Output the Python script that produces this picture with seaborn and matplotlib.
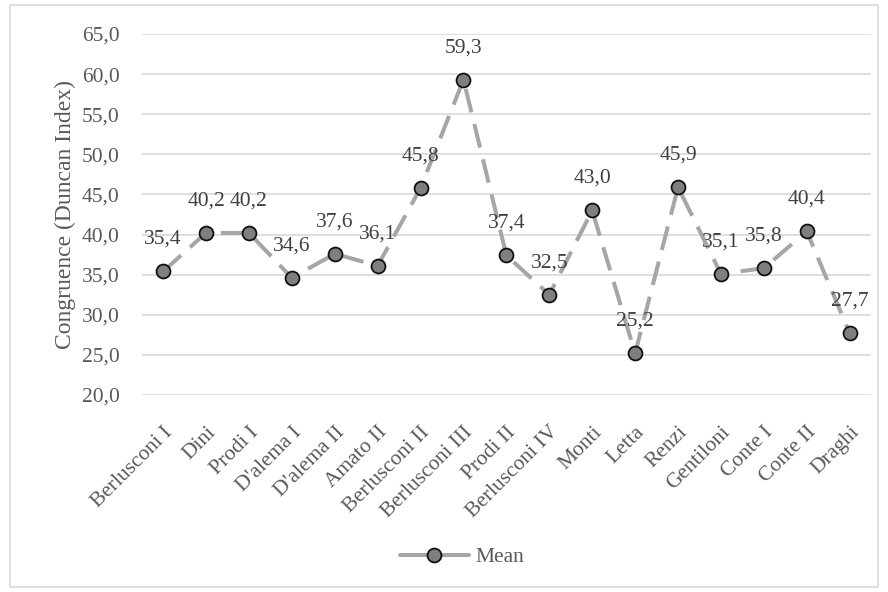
import matplotlib
matplotlib.use("Agg")
import matplotlib.pyplot as plt
from matplotlib.patches import Rectangle
from matplotlib.ticker import FuncFormatter, MultipleLocator
import pandas as pd
import seaborn as sns

governments = ["Berlusconi I", "Dini", "Prodi I", "D'alema I", "D'alema II",
               "Amato II", "Berlusconi II", "Berlusconi III", "Prodi II",
               "Berlusconi IV", "Monti", "Letta", "Renzi", "Gentiloni",
               "Conte I", "Conte II", "Draghi"]
mean_values = [35.4, 40.2, 40.2, 34.6, 37.6, 36.1, 45.8, 59.3, 37.4,
               32.5, 43.0, 25.2, 45.9, 35.1, 35.8, 40.4, 27.7]
y_ticks = [20, 25, 30, 35, 40, 45, 50, 55, 60, 65]

sns.set_theme(style="white")
plt.rcParams["font.family"] = ["Liberation Serif", "DejaVu Serif"]

TEXT = "#595959"
LABEL = "#404040"
LINE = "#a6a6a6"
GRID = "#d9d9d9"
FS = 15.5

df = pd.DataFrame({"government": governments, "mean": mean_values})

fig = plt.figure(figsize=(8.88, 5.92), dpi=100)
ax = fig.add_axes([0.1595, 0.3328, 0.8215, 0.6098])

sns.lineplot(data=df, x="government", y="mean", sort=False, ax=ax,
             color=LINE, linewidth=2.9, marker="o", markersize=10,
             markerfacecolor="#7f7f7f", markeredgecolor="#111111",
             markeredgewidth=1.3, label="Mean")
ax.lines[0].set_dashes((6, 3))

ax.set_xlim(-0.5, len(governments) - 0.5)
ax.set_ylim(min(y_ticks), max(y_ticks))
ax.yaxis.set_major_locator(MultipleLocator(5))
ax.yaxis.set_major_formatter(FuncFormatter(lambda v, _: f"{v:.1f}".replace(".", ",")))
ax.grid(axis="y", color=GRID, linewidth=1.2)
ax.set_axisbelow(True)
for s in ax.spines.values():
    s.set_visible(False)

ax.tick_params(axis="y", labelsize=FS, colors=TEXT, length=0, pad=16)
ax.tick_params(axis="x", labelsize=FS, colors=TEXT, length=0, pad=20)
plt.setp(ax.get_xticklabels(), rotation=45, ha="right", rotation_mode="anchor")

ax.set_xlabel("")
ax.set_ylabel("Congruence (Duncan Index)", fontsize=17, color=TEXT, labelpad=4)

for i, v in enumerate(mean_values):
    ax.annotate(f"{v:.1f}".replace(".", ","), (i, v), xytext=(0, 23),
                textcoords="offset points", ha="center", va="center",
                fontsize=FS, color=LABEL)

leg = ax.legend(loc="center", bbox_to_anchor=(0.52, 0.059),
                bbox_transform=fig.transFigure, frameon=False, fontsize=FS,
                handlelength=3.2, handletextpad=0.3)
for t in leg.get_texts():
    t.set_color(TEXT)
for h in leg.get_lines():
    h.set_linestyle("-")

fig.patches.append(Rectangle((10 / 888, 5 / 592), 868 / 888, 582 / 592,
                             transform=fig.transFigure, fill=False,
                             edgecolor=GRID, linewidth=1.2))

fig.savefig("out.png", dpi=100)
